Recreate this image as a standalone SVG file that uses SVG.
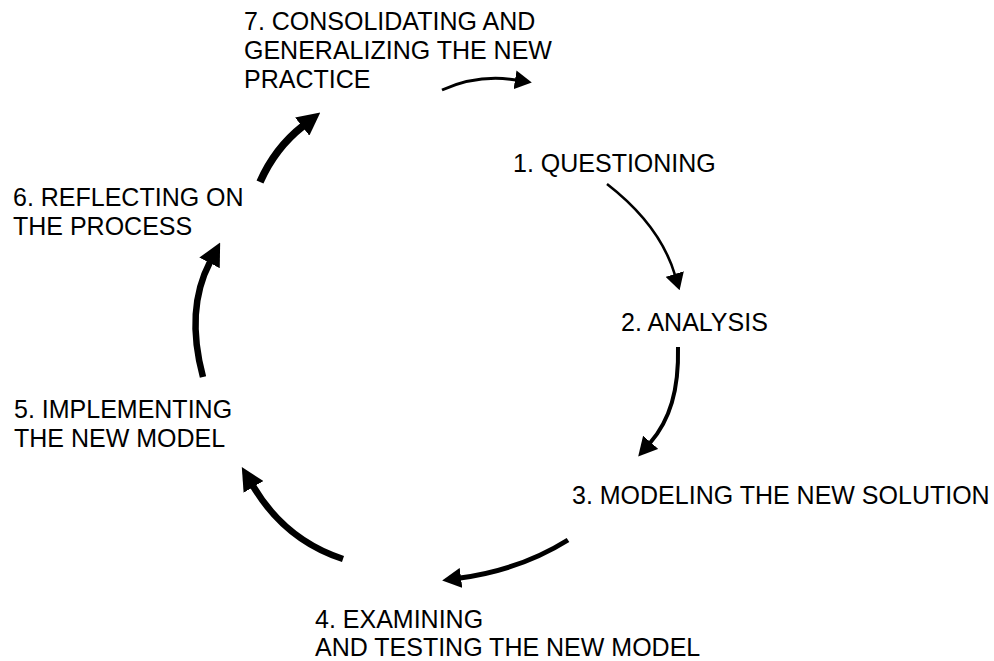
<svg xmlns="http://www.w3.org/2000/svg" width="994" height="661" viewBox="0 0 994 661">
  <style>
    .lbl { font-family: "Liberation Sans", Arial, sans-serif; font-size: 25px; fill: #000; }
    .arc { fill: none; stroke: #000; stroke-linecap: butt; }
  </style>
  <defs>
    <marker id="headS" markerUnits="userSpaceOnUse" markerWidth="17" markerHeight="19" refX="1" refY="9.5" orient="auto">
      <path d="M0,0 L17,9.5 L0,19 z" fill="#000"/>
    </marker>
    <marker id="headM" markerUnits="userSpaceOnUse" markerWidth="19" markerHeight="20" refX="1" refY="10" orient="auto">
      <path d="M0,0 L19,10 L0,20 z" fill="#000"/>
    </marker>
    <marker id="headL" markerUnits="userSpaceOnUse" markerWidth="23" markerHeight="23" refX="1" refY="11.5" orient="auto">
      <path d="M0,0 L23,11.5 L0,23 z" fill="#000"/>
    </marker>
  </defs>

  <rect width="994" height="661" fill="#fff"/>

  <!-- cycle connectors, thickening as the cycle proceeds -->
  <g id="connectors">
    <path class="arc" d="M442,90 Q478,74 516,80" stroke-width="3" marker-end="url(#headS)"/>
    <path class="arc" d="M607,184 Q660,225 675,275" stroke-width="2.6" marker-end="url(#headS)"/>
    <path class="arc" d="M678,347 C679,390 670,420 650,443" stroke-width="4" marker-end="url(#headM)"/>
    <path class="arc" d="M568,540 Q520,570 460,578" stroke-width="5" marker-end="url(#headM)"/>
    <path class="arc" d="M343,559 Q285,540 253,486" stroke-width="6.5" marker-end="url(#headL)"/>
    <path class="arc" d="M203,377 Q185,310 210,262" stroke-width="6.5" marker-end="url(#headL)"/>
    <path class="arc" d="M260,182 Q275,148 303,126" stroke-width="7.5" marker-end="url(#headL)"/>
  </g>

  <g id="step1"><text class="lbl" x="513" y="172">1. QUESTIONING</text></g>
  <g id="step2"><text class="lbl" x="621" y="331">2. ANALYSIS</text></g>
  <g id="step3"><text class="lbl" x="572" y="504">3. MODELING THE NEW SOLUTION</text></g>
  <g id="step4">
    <text class="lbl" x="315" y="628">4. EXAMINING</text>
    <text class="lbl" x="315" y="656">AND TESTING THE NEW MODEL</text>
  </g>
  <g id="step5">
    <text class="lbl" x="14" y="418">5. IMPLEMENTING</text>
    <text class="lbl" x="14" y="447">THE NEW MODEL</text>
  </g>
  <g id="step6">
    <text class="lbl" x="13" y="206">6. REFLECTING ON</text>
    <text class="lbl" x="13" y="235">THE PROCESS</text>
  </g>
  <g id="step7">
    <text class="lbl" x="244" y="30">7. CONSOLIDATING AND</text>
    <text class="lbl" x="244" y="59">GENERALIZING THE NEW</text>
    <text class="lbl" x="244" y="88">PRACTICE</text>
  </g>
</svg>
